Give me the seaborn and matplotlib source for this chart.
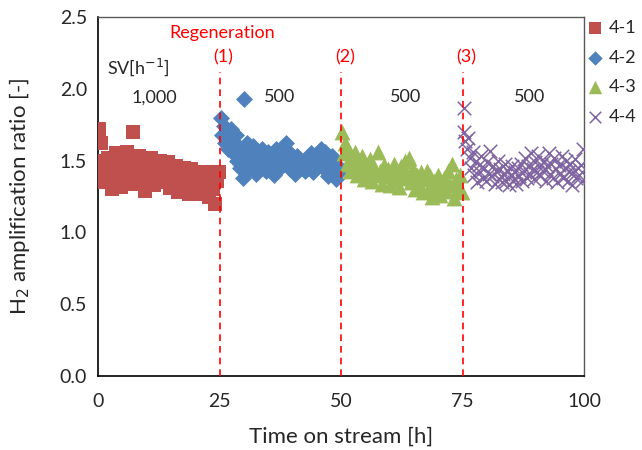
import pandas as pd
import seaborn as sns
import matplotlib.pyplot as plt

# 4-1 (SV 1,000)
t_41 = [0.0, 0.3, 0.6, 0.9, 1.2, 1.5, 1.8, 2.1, 2.4, 2.8, 3.2, 3.6, 4.0, 4.4, 4.8,
        5.2, 5.6, 6.0, 6.4, 6.8, 7.2, 7.6, 8.0, 8.4, 8.8, 9.2, 9.6, 10.0, 10.4, 10.8,
        11.2, 11.6, 12.0, 12.4, 12.8, 13.2, 13.6, 14.0, 14.4, 14.8, 15.2, 15.6, 16.0,
        16.4, 16.8, 17.2, 17.6, 18.0, 18.4, 18.8, 19.2, 19.6, 20.0, 20.4, 20.8, 21.2,
        21.6, 22.0, 22.4, 22.8, 23.2, 23.6, 24.0, 24.4, 24.8]
r_41 = [1.44, 1.72, 1.62, 1.38, 1.50, 1.35, 1.46, 1.52, 1.40, 1.30, 1.48, 1.55, 1.36, 1.45, 1.32,
        1.50, 1.42, 1.56, 1.38, 1.47, 1.70, 1.34, 1.44, 1.53, 1.40, 1.48, 1.29, 1.45, 1.37, 1.52,
        1.42, 1.33, 1.47, 1.39, 1.50, 1.35, 1.44, 1.40, 1.49, 1.31, 1.43, 1.37, 1.46,
        1.28, 1.41, 1.35, 1.45, 1.33, 1.40, 1.27, 1.44, 1.36, 1.30, 1.42, 1.35, 1.27,
        1.40, 1.33, 1.38, 1.25, 1.42, 1.30, 1.20, 1.36, 1.42]

# 4-2 (SV 500, after regeneration 1)
t_42 = [25.3, 25.6, 25.9, 26.2, 26.5, 26.8, 27.1, 27.4, 27.7, 28.0, 28.3, 28.6, 28.9, 29.2,
        29.5, 29.8, 30.0, 30.3, 30.7, 31.0, 31.4, 31.8, 32.2, 32.6, 33.0, 33.4, 33.8, 34.2,
        34.6, 35.0, 35.4, 35.8, 36.2, 36.6, 37.0, 37.4, 37.8, 38.2, 38.6, 39.0, 39.4, 39.8,
        40.2, 40.6, 41.0, 41.4, 41.8, 42.2, 42.6, 43.0, 43.4, 43.8, 44.2, 44.6, 45.0, 45.4,
        45.8, 46.2, 46.6, 47.0, 47.4, 47.8, 48.2, 48.6, 49.0, 49.4, 49.8]
r_42 = [1.80, 1.68, 1.74, 1.62, 1.70, 1.58, 1.66, 1.72, 1.55, 1.63, 1.68, 1.50, 1.60, 1.45,
        1.56, 1.38, 1.93, 1.52, 1.62, 1.44, 1.55, 1.60, 1.48, 1.41, 1.54, 1.47, 1.58, 1.50,
        1.43, 1.56, 1.49, 1.52, 1.40, 1.58, 1.50, 1.45, 1.55, 1.48, 1.62, 1.57, 1.44, 1.52,
        1.47, 1.41, 1.53, 1.48, 1.45, 1.50, 1.43, 1.52, 1.46, 1.55, 1.42, 1.49, 1.46, 1.51,
        1.58, 1.48, 1.56, 1.43, 1.39, 1.47, 1.53, 1.42, 1.37, 1.46, 1.43]

# 4-3 (SV 500, after regeneration 2)
t_43 = [50.3, 50.6, 50.9, 51.2, 51.5, 51.8, 52.1, 52.4, 52.8, 53.2, 53.6, 54.0, 54.4, 54.8,
        55.2, 55.6, 56.0, 56.4, 56.8, 57.2, 57.6, 58.0, 58.4, 58.8, 59.2, 59.6, 60.0, 60.4,
        60.8, 61.2, 61.6, 62.0, 62.4, 62.8, 63.2, 63.6, 64.0, 64.4, 64.8, 65.2, 65.6, 66.0,
        66.4, 66.8, 67.2, 67.6, 68.0, 68.4, 68.8, 69.2, 69.6, 70.0, 70.4, 70.8, 71.2, 71.6,
        72.0, 72.4, 72.8, 73.2, 73.6, 74.0, 74.4, 74.8]
r_43 = [1.70, 1.55, 1.62, 1.48, 1.58, 1.43, 1.52, 1.46, 1.56, 1.40, 1.50, 1.44, 1.53, 1.37,
        1.47, 1.42, 1.51, 1.36, 1.45, 1.40, 1.56, 1.43, 1.34, 1.47, 1.39, 1.44, 1.33, 1.42,
        1.48, 1.37, 1.43, 1.32, 1.46, 1.38, 1.50, 1.41, 1.52, 1.35, 1.44, 1.30, 1.40, 1.34,
        1.42, 1.28, 1.37, 1.43, 1.31, 1.39, 1.25, 1.36, 1.30, 1.40, 1.26, 1.34, 1.38, 1.29,
        1.43, 1.33, 1.48, 1.24, 1.37, 1.31, 1.40, 1.28]

# 4-4 (SV 500, after regeneration 3)
t_44 = [75.2, 75.4, 75.6, 75.9, 76.2, 76.5, 76.8, 77.1, 77.4, 77.7, 78.0, 78.3, 78.6, 78.9,
        79.2, 79.5, 79.8, 80.1, 80.4, 80.7, 81.0, 81.3, 81.6, 81.9, 82.2, 82.5, 82.8, 83.1,
        83.4, 83.7, 84.0, 84.3, 84.6, 84.9, 85.2, 85.5, 85.8, 86.1, 86.4, 86.7, 87.0, 87.3,
        87.6, 87.9, 88.2, 88.5, 88.8, 89.1, 89.4, 89.7, 90.0, 90.3, 90.6, 90.9, 91.2, 91.5,
        91.8, 92.1, 92.4, 92.7, 93.0, 93.3, 93.6, 93.9, 94.2, 94.5, 94.8, 95.1, 95.4, 95.7,
        96.0, 96.3, 96.6, 96.9, 97.2, 97.5, 97.8, 98.1, 98.4, 98.7, 99.0, 99.3, 99.6, 99.8]
r_44 = [1.87, 1.70, 1.64, 1.58, 1.66, 1.52, 1.45, 1.56, 1.40, 1.50, 1.35, 1.47, 1.42, 1.53,
        1.38, 1.45, 1.36, 1.49, 1.41, 1.57, 1.39, 1.46, 1.34, 1.43, 1.50, 1.37, 1.44, 1.35,
        1.41, 1.48, 1.36, 1.43, 1.33, 1.40, 1.46, 1.37, 1.42, 1.34, 1.45, 1.39, 1.48, 1.36,
        1.43, 1.52, 1.38, 1.46, 1.41, 1.55, 1.44, 1.37, 1.49, 1.42, 1.53, 1.39, 1.47, 1.43,
        1.50, 1.36, 1.46, 1.55, 1.41, 1.48, 1.38, 1.52, 1.44, 1.35, 1.47, 1.41, 1.53, 1.38,
        1.45, 1.50, 1.36, 1.43, 1.48, 1.33, 1.42, 1.51, 1.38, 1.45, 1.40, 1.47, 1.36, 1.58]

regen_times = [25, 50, 75]
regen_labels = ['(1)', '(2)', '(3)']
sv_labels = ['1,000', '500', '500', '500']
sv_label_x = [11.5, 37.3, 63.2, 88.9]

#%%
sns.set_style('white')
plt.rcParams['font.family'] = ['Lato', 'DejaVu Sans']

fig = plt.figure(figsize=(6.42, 4.5), dpi=100)
ax = fig.add_axes([0.1527, 0.1644, 0.757, 0.7976])

sns.scatterplot(x=t_41, y=r_41, marker='s', s=115, color='#C0504D', linewidth=0, label='4-1', ax=ax, zorder=3)
sns.scatterplot(x=t_42, y=r_42, marker='D', s=75, color='#4F81BD', linewidth=0, label='4-2', ax=ax, zorder=3)
sns.scatterplot(x=t_43, y=r_43, marker='^', s=130, color='#9BBB59', linewidth=0, label='4-3', ax=ax, zorder=3)
sns.scatterplot(x=t_44, y=r_44, marker='x', s=95, color='#8064A2', linewidth=1.1, label='4-4', ax=ax, zorder=3)

# regeneration lines
for t, lab in zip(regen_times, regen_labels):
    ax.plot([t, t], [0, 2.12], color='#FF0000', linestyle=(0, (4, 3)), linewidth=1.2, zorder=4)
    ax.text(t + 0.8, 2.22, lab, color='#FF0000', fontsize=13, ha='center', va='center')
ax.text(25.5, 2.39, 'Regeneration', color='#FF0000', fontsize=13, ha='center', va='center')

ax.text(8.3, 2.15, 'SV[h$^{-1}$]', fontsize=13, ha='center', va='center')
for xx, lab in zip(sv_label_x, sv_labels):
    ax.text(xx, 1.94, lab, fontsize=13, ha='center', va='center')

ax.set_xlim(0, 100)
ax.set_ylim(0, 2.5)
ax.set_xticks([0, 25, 50, 75, 100])
ax.set_yticks([0.0, 0.5, 1.0, 1.5, 2.0, 2.5])
ax.set_yticklabels(['0.0', '0.5', '1.0', '1.5', '2.0', '2.5'])
ax.tick_params(axis='both', labelsize=14, direction='out', length=4, width=1, color='black', pad=4)
ax.tick_params(axis='x', length=0, pad=12)
ax.set_xlabel('Time on stream [h]', fontsize=16, labelpad=12)
ax.set_ylabel('H$_2$ amplification ratio [-]', fontsize=16, labelpad=20)

for side in ['left', 'bottom']:
    ax.spines[side].set_color('black')
    ax.spines[side].set_linewidth(1.2)
for side in ['top', 'right']:
    ax.spines[side].set_color('#595959')
    ax.spines[side].set_linewidth(1.0)

ax.legend(loc='upper left', bbox_to_anchor=(587 / 642, 1 - 20 / 450), bbox_transform=fig.transFigure,
          frameon=False, fontsize=13, handlelength=0.9, handletextpad=0.3, labelspacing=0.75,
          borderaxespad=0.0, borderpad=0.0, markerscale=0.85)

plt.savefig('out.png', dpi=100)
